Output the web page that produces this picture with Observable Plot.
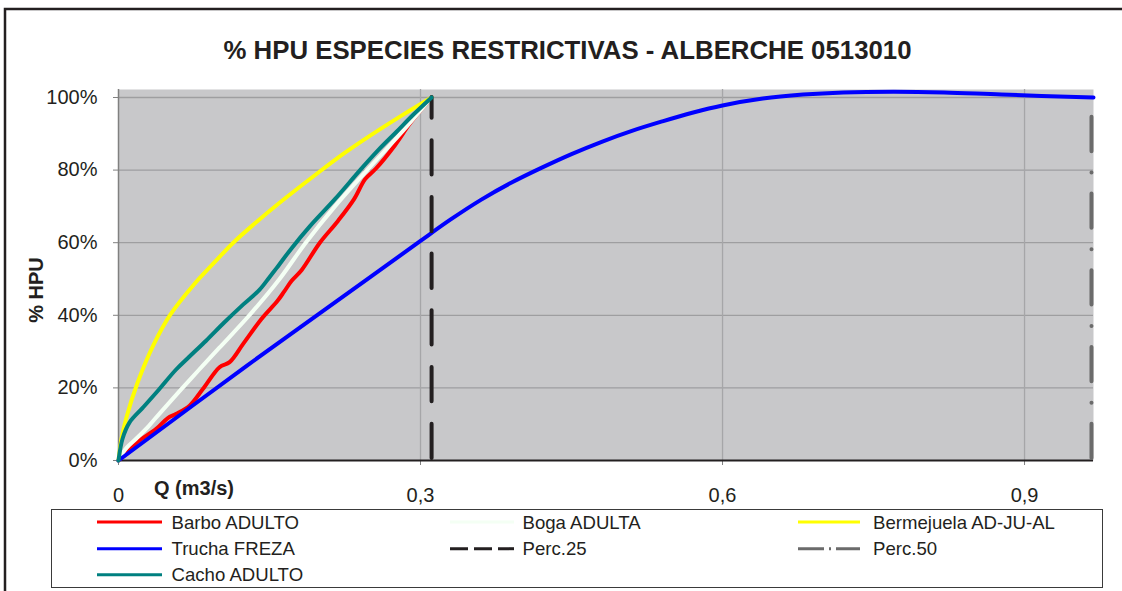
<!DOCTYPE html>
<html>
<head>
<meta charset="utf-8">
<script src="https://cdn.jsdelivr.net/npm/d3@7"></script>
<script src="https://cdn.jsdelivr.net/npm/@observablehq/plot@0.6"></script>
<style>
  body { margin: 0; background: #fff; }
  #wrap { position: relative; width: 1122px; height: 591px; overflow: hidden; font-family: "Liberation Sans", Arial, sans-serif; }
  #chart { position: absolute; left: 0; top: 0; }
  #deco { position: absolute; left: 0; top: 0; pointer-events: none; }
</style>
</head>
<body>
<div id="wrap">
  <div id="chart"></div>
  <svg id="deco" width="1122" height="591" xmlns="http://www.w3.org/2000/svg"></svg>
</div>
<script>
// ---------- data ----------
const chartTitle = "% HPU ESPECIES RESTRICTIVAS - ALBERCHE 0513010";
const xLabel = "Q (m3/s)";
const yLabel = "% HPU";

const qBarbo = [0, 0.010, 0.0175, 0.0375, 0.049, 0.057, 0.0706, 0.0838, 0.1004, 0.1104, 0.124, 0.142, 0.158, 0.1645, 0.172, 0.182, 0.200, 0.218, 0.234, 0.245, 0.256, 0.275, 0.290, 0.311];
const hBarbo = [0, 0.025, 0.048, 0.087, 0.117, 0.128, 0.151, 0.197, 0.257, 0.271, 0.322, 0.39, 0.44, 0.465, 0.495, 0.525, 0.60, 0.66, 0.72, 0.775, 0.805, 0.87, 0.93, 1.0];

const qBoga = [0, 0.008, 0.0175, 0.030, 0.041, 0.062, 0.080, 0.100, 0.130, 0.160, 0.186, 0.215, 0.247, 0.280, 0.311];
const hBoga = [0, 0.035, 0.06, 0.095, 0.13, 0.195, 0.25, 0.31, 0.40, 0.50, 0.60, 0.70, 0.80, 0.90, 1.0];

const qBermejuela = [0, 0.003, 0.008, 0.019, 0.035, 0.051, 0.075, 0.095, 0.114, 0.135, 0.160, 0.197, 0.225, 0.250, 0.280, 0.311];
const hBermejuela = [0, 0.06, 0.12, 0.215, 0.32, 0.40, 0.485, 0.545, 0.60, 0.652, 0.71, 0.79, 0.848, 0.895, 0.948, 1.0];

const qTrucha = [0, 0.127, 0.250, 0.300, 0.330, 0.360, 0.390, 0.420, 0.450, 0.480, 0.510, 0.540, 0.570, 0.600, 0.640, 0.680, 0.720, 0.770, 0.820, 0.877, 0.9685];
const hTrucha = [0, 0.26, 0.505, 0.605, 0.664, 0.718, 0.765, 0.806, 0.844, 0.878, 0.908, 0.934, 0.958, 0.978, 0.997, 1.008, 1.014, 1.016, 1.014, 1.008, 1.0];

const qCacho = [0, 0.004, 0.011, 0.024, 0.040, 0.057, 0.070, 0.087, 0.105, 0.124, 0.140, 0.150, 0.157, 0.172, 0.190, 0.215, 0.240, 0.258, 0.276, 0.293, 0.311];
const hCacho = [0, 0.06, 0.105, 0.145, 0.195, 0.25, 0.285, 0.33, 0.38, 0.43, 0.47, 0.505, 0.53, 0.585, 0.645, 0.72, 0.80, 0.855, 0.905, 0.953, 1.0];

const perc25 = [0.311];
const perc50 = [0.9665];

const xTicks = [0, 0.3, 0.6, 0.9];
const yTicks = [0, 0.2, 0.4, 0.6, 0.8, 1.0];

const legendNames  = ["Barbo ADULTO", "Boga ADULTA", "Bermejuela AD-JU-AL", "Trucha FREZA", "Perc.25", "Perc.50", "Cacho ADULTO"];
const legendColors = ["#ff0000", "#f4fff4", "#ffff00", "#0000ff", "#231f20", "#6b6b6b", "#008080"];
const legendDash   = [null, null, null, null, "18,6", "26,5,2,5", null];

// ---------- chart ----------
const rows = (q, h) => q.map((v, i) => ({ q: v, h: h[i] }));
const curveOpts = (color) => ({ x: "q", y: "h", stroke: color, strokeWidth: 4, curve: "catmull-rom", strokeLinejoin: "round", strokeLinecap: "round" });
const fmtX = d => d === 0 ? "0" : d3.format(".1f")(d).replace(".", ",");

const chart = Plot.plot({
  width: 1122,
  height: 505,
  marginLeft: 118,
  marginRight: 29,
  marginTop: 89,
  marginBottom: 45,
  x: { domain: [0, 0.9685] },
  y: { domain: [0, 1.022] },
  style: { fontFamily: "'Liberation Sans', Arial, sans-serif", fontSize: "20px", background: "transparent", color: "#231f20" },
  marks: [
    Plot.frame({ fill: "#c8c8ca", stroke: null }),
    Plot.gridY(yTicks.slice(1), { stroke: "#9e9ea0", strokeOpacity: 1, strokeWidth: 1.3 }),
    Plot.gridX(xTicks.slice(1), { stroke: "#a6a6a8", strokeOpacity: 1, strokeWidth: 1.3 }),
    Plot.axisY(yTicks, { tickFormat: d3.format(".0%"), tickSize: 5, tickPadding: 16, fontSize: 20, stroke: "#808080", fill: "#231f20", label: null }),
    Plot.axisX(xTicks, { tickFormat: fmtX, tickSize: 5, tickPadding: 22, fontSize: 20, stroke: "#808080", fill: "#231f20", label: null }),
    Plot.ruleX([0], { stroke: "#808080", strokeWidth: 1.5 }),
    Plot.ruleY([0], { stroke: "#231f20", strokeWidth: 1.8 }),
    Plot.line(rows(qBarbo, hBarbo), curveOpts(legendColors[0])),
    Plot.line(rows(qBoga, hBoga), curveOpts(legendColors[1])),
    Plot.line(rows(qBermejuela, hBermejuela), curveOpts(legendColors[2])),
    Plot.line(rows(qTrucha, hTrucha), curveOpts(legendColors[3])),
    Plot.ruleX(perc25, { y1: () => 0, y2: () => 1, stroke: legendColors[4], strokeWidth: 4, strokeLinecap: "round", strokeDasharray: "34.3,22.4", strokeDashoffset: -2 }),
    Plot.ruleX(perc50, { y1: () => 0, y2: () => 1, stroke: legendColors[5], strokeWidth: 4, strokeLinecap: "round", strokeDasharray: "34.3,21,0.01,21.4", strokeDashoffset: -2 }),
    Plot.line(rows(qCacho, hCacho), curveOpts(legendColors[6]))
  ]
});
document.getElementById("chart").appendChild(chart);

// ---------- title, axis titles, legend, frame ----------
const ns = "http://www.w3.org/2000/svg";
const deco = document.getElementById("deco");
function el(tag, attrs, text) {
  const e = document.createElementNS(ns, tag);
  for (const k in attrs) e.setAttribute(k, attrs[k]);
  if (text != null) e.textContent = text;
  deco.appendChild(e);
  return e;
}
const FF = "'Liberation Sans', Arial, sans-serif";
el("path", { d: "M5,620 V9 H1140", fill: "none", stroke: "#231f20", "stroke-width": 2.5 });
el("text", { x: 567.5, y: 59, "text-anchor": "middle", "font-family": FF, "font-size": 25.8, "font-weight": "bold", fill: "#231f20" }, chartTitle);
el("text", { x: 154, y: 495, "font-family": FF, "font-size": 20, "font-weight": "bold", fill: "#231f20" }, xLabel);
el("text", { transform: "translate(42.5,290) rotate(-90)", "text-anchor": "middle", "font-family": FF, "font-size": 20, "font-weight": "bold", fill: "#231f20" }, yLabel);

el("rect", { x: 51.5, y: 509.5, width: 1051, height: 78, fill: "#fff", stroke: "#3a3a3a", "stroke-width": 1 });
const colLine = [[97, 162], [450, 514], [798, 860]];
const colText = [171.5, 522.5, 873];
const rowY = [522, 548.7, 574.7];
legendNames.forEach((name, i) => {
  const c = i % 3, r = Math.floor(i / 3);
  const ln = { x1: colLine[c][0], x2: colLine[c][1], y1: rowY[r], y2: rowY[r], stroke: legendColors[i], "stroke-width": 3 };
  if (legendDash[i]) ln["stroke-dasharray"] = legendDash[i];
  el("line", ln);
  el("text", { x: colText[c], y: rowY[r] + 6.7, "font-family": FF, "font-size": 18.6, fill: "#231f20" }, name);
});
</script>
</body>
</html>
